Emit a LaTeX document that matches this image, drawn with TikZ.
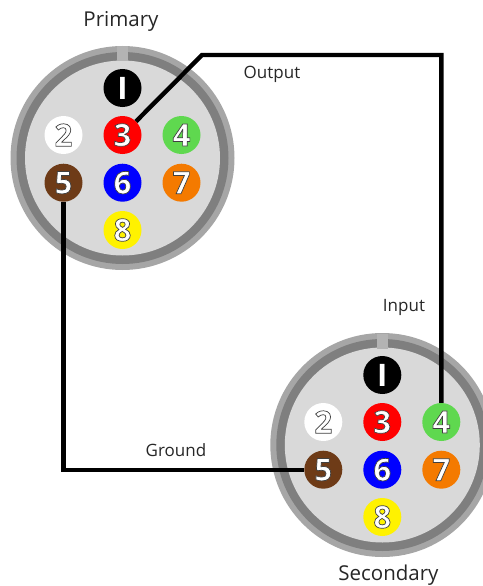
\documentclass[tikz,border=0pt]{standalone}
\usepackage{fontspec}
\setmainfont{Open Sans}
\newcommand{\pinnum}[1]{\textcolor{white}{\bfseries\special{pdf:code 2 Tr 0.7 w 0.25 0.25 0.25 RG}#1\special{pdf:code 0 Tr 1 1 1 RG}}}
\definecolor{ringlight}{HTML}{A6A6A6}
\definecolor{ringdark}{HTML}{7F7F7F}
\definecolor{plate}{HTML}{D9D9D9}
\definecolor{pingreen}{HTML}{5FD84F}
\definecolor{pinbrown}{HTML}{6E3B17}
\definecolor{pinorange}{HTML}{F47A00}
\tikzset{
  pin/.style={circle,fill=#1,minimum size=38pt,inner sep=0pt,font=\fontsize{31}{31}\selectfont},
  wire/.style={line width=4.4pt,line join=miter},
  lab/.style={inner sep=0pt,font=\fontsize{17}{20}\selectfont,text=black!85},
  title/.style={inner sep=0pt,font=\fontsize{20.5}{24}\selectfont,text=black!85},
}
\begin{document}
\begin{tikzpicture}[x=1pt,y=-1pt]
   \useasboundingbox (0,0) rectangle (482,586);
   % connectors
   \foreach \conn/\cx/\cy in {p/122.5/158,s/382.3/445}{
      \fill[ringlight] (\cx,\cy) circle (112pt);
      \fill[ringdark] (\cx,\cy) circle (106pt);
      \fill[plate] (\cx,\cy) circle (97.5pt);
      \fill[ringlight!85!white] (\cx-5.3,\cy-111.5) rectangle (\cx+5.3,\cy-96.5);
      \foreach \pin/\dx/\dy/\col in {2/-59/-23/white,3/0/-23/red,4/59/-23/pingreen,
            5/-59/24.7/pinbrown,6/0/24.7/blue,7/59/24.7/pinorange,8/0/72/yellow}{
         \node[pin=\col] (\conn\pin) at (\cx+\dx,\cy+\dy) {\pinnum{\pin}};
      }
      \node[pin=black,text=white] (\conn1) at (\cx,\cy-70) {\fontseries{b}\selectfont I};
   }
   % wires
   \coordinate (turnA) at (202,55);
   \coordinate (turnB) at (s4 |- turnA);
   \draw[wire] (p3) -- (turnA) -- (turnB) -- (s4);
   \draw[wire] (p5) -- (p5 |- s5) -- (s5);
   % labels
   \node[title] (primary) at (121,21) {Primary};
   \node[title] (secondary) at (388.5,575) {Secondary};
   \node[lab] (output) at (272,74) {Output};
   \node[lab] (input) at (404,307) {Input};
   \node[lab] (ground) at (176,450) {Ground};
\end{tikzpicture}
\end{document}
